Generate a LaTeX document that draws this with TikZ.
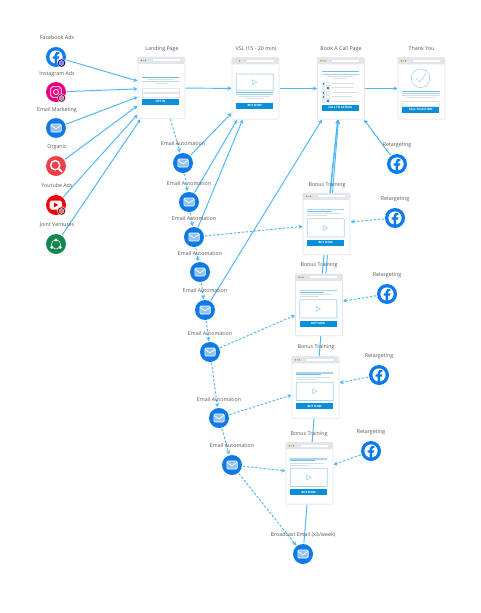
\documentclass[tikz,border=0pt]{standalone}
\usepackage{fontspec}
\setmainfont{Open Sans}
\usetikzlibrary{arrows.meta,calc}
\pgfdeclarelayer{bg}
\pgfsetlayers{bg,main}
\definecolor{link}{HTML}{4DB6FB}
\definecolor{fbblue}{HTML}{0A7BEF}
\definecolor{mailblue}{HTML}{0F7AE5}
\definecolor{btn}{HTML}{0A8FD9}
\definecolor{lineblue}{HTML}{6FBCE8}
\definecolor{paleblue}{HTML}{A6D3EE}
\definecolor{linegray}{HTML}{DADDE1}
\definecolor{chrome}{HTML}{E2E5E9}
\definecolor{txt}{HTML}{555555}
\definecolor{igpink}{HTML}{E6007E}
\definecolor{orgred}{HTML}{F23D4B}
\definecolor{ytred}{HTML}{F40009}
\definecolor{jvgreen}{HTML}{12874F}
\tikzset{
  conn/.style={draw=link,line width=0.95pt,-{Stealth[length=4pt,width=4.2pt]}},
  dconn/.style={conn,dash pattern=on 2.4pt off 1.7pt},
  webpage/.style={rectangle,draw=chrome,fill=white,line width=0.7pt,rounded corners=1pt,minimum width=47pt,minimum height=61.5pt,inner sep=0pt,outer sep=0.5pt},
  icon/.style={circle,minimum size=20pt,inner sep=0pt,outer sep=1pt},
  lab/.style={font=\fontsize{5.3}{6}\selectfont,text=txt,inner sep=0pt},
  btntext/.style={font=\fontsize{2.9}{3}\selectfont\bfseries,text=white,inner sep=0pt},
  ln/.style={line width=0.9pt}
}
% page chrome, local px coordinates from the page's top left corner
\newcommand{\pagebar}[1]{%
  \fill[chrome,rounded corners=0.8pt] (0,0) rectangle (47,7);
  \fill[white] (15,2.6) rectangle (42,4.6);
  \if#1y
  \fill[red!70!white] (4,3.6) circle (0.8);
  \fill[orange!70!yellow] (6,3.6) circle (0.8);
  \fi
  \fill[green!70!black!80] (8,3.6) circle (0.8);
}
\newcommand{\btnbox}[3]{% y1 y2 text
  \fill[btn] (4.5,#1) rectangle (41.8,#2);
  \node[btntext] at (23.1,{(#1+#2)/2}) {#3};
}
\newcommand{\videobox}[2]{% y1 y2
  \draw[paleblue,line width=0.8pt,rounded corners=0.5pt] (4.7,#1) rectangle (41.8,#2);
  \draw[paleblue!70!lineblue,line width=0.5pt,line join=round] (21,{(#1+#2)/2-2.6}) -- (25.4,{(#1+#2)/2}) -- (21,{(#1+#2)/2+2.6}) -- cycle;
}
\newcommand{\bonuspage}[1]{%
  \begin{scope}[shift={(#1.north west)}]
  \pagebar{y}
  \draw[paleblue,line width=1.1pt] (4.5,16.7) -- (41.8,16.7);
  \draw[lineblue,line width=1pt] (4.5,18.7) -- (29,18.7);
  \draw[linegray,ln] (4.5,21) -- (38,21);
  \draw[linegray,ln] (4.5,23) -- (24,23);
  \videobox{26}{44.3}
  \btnbox{47}{53}{BUY NOW}
  \end{scope}
}
\newcommand{\mailicon}[1]{%
  \begin{scope}[shift={(#1.center)}]
  \draw[white,fill=white!55!mailblue,line width=0.6pt,rounded corners=1pt] (-5.2,-4) rectangle (5.2,4);
  \draw[white,line width=0.7pt,line join=round] (-5,-2.6) -- (0,0.9) -- (5,-2.6);
  \end{scope}
}
\newcommand{\fbglyph}[2]{% node, colour of the f
  \begin{scope}[shift={(#1.center)}]
  \fill[white] (0,0) circle (6.6);
  \fill[#2] (1.1,6.8) -- (1.1,1.6) -- (3,1.6) -- (3.3,-0.6) -- (1.1,-0.6) -- (1.1,-2) .. controls (1.1,-2.8) and (1.5,-3.2) .. (2.4,-3.2) -- (3.4,-3.2) -- (3.4,-5) .. controls (1,-5.6) and (-1.3,-5) .. (-1.3,-2.2) -- (-1.3,-0.6) -- (-3.3,-0.6) -- (-3.3,1.6) -- (-1.3,1.6) -- (-1.3,6.8) -- cycle;
  \end{scope}
}
\newcommand{\globebadge}[2]{% node, colour
  \begin{scope}[shift={(#1.center)}]
  \fill[#2,draw=white,line width=0.4pt] (5.5,6) circle (4.2);
  \draw[white,line width=0.35pt] (5.5,6) circle (2.4) (3.1,6) -- (7.9,6) (5.5,3.6) -- (5.5,8.4);
  \draw[white,line width=0.3pt] (5.5,6) ellipse (1.1 and 2.4);
  \end{scope}
}
\begin{document}
\begin{tikzpicture}[x=1pt,y=-1pt]
\useasboundingbox (0,0) rectangle (480,613);
% sources
\node[icon,fill=fbblue] (fb) at (56,57) {};
\node[icon,fill=igpink] (ig) at (56,92) {};
\node[icon,fill=mailblue] (em) at (56,128) {};
\node[icon,fill=orgred] (org) at (56,166) {};
\node[icon,fill=ytred] (yt) at (56,205) {};
\node[icon,fill=jvgreen] (jv) at (56,244) {};
% pages
\node[webpage] (lp) at (161.5,88) {};
\node[webpage] (vsl) at (255.5,88.5) {};
\node[webpage] (book) at (341,88.5) {};
\node[webpage] (ty) at (421.5,88.5) {};
\node[webpage] (b1) at (326.5,224) {};
\node[webpage] (b2) at (319,305) {};
\node[webpage] (b3) at (315.5,387.5) {};
\node[webpage] (b4) at (309.5,473.5) {};
% e-mail automation
\node[icon,fill=mailblue] (e1) at (183,163) {};
\node[icon,fill=mailblue] (e2) at (189,202) {};
\node[icon,fill=mailblue] (e3) at (194,237) {};
\node[icon,fill=mailblue] (e4) at (200,272) {};
\node[icon,fill=mailblue] (e5) at (205,310) {};
\node[icon,fill=mailblue] (e6) at (210,352) {};
\node[icon,fill=mailblue] (e7) at (219,418) {};
\node[icon,fill=mailblue] (e8) at (232,465) {};
\node[icon,fill=mailblue] (bc) at (303,554) {};
% retargeting
\node[icon,fill=fbblue] (r0) at (397,164) {};
\node[icon,fill=fbblue] (r1) at (395,218) {};
\node[icon,fill=fbblue] (r2) at (387,294) {};
\node[icon,fill=fbblue] (r3) at (379,375) {};
\node[icon,fill=fbblue] (r4) at (371,451) {};
% connectors
\begin{pgfonlayer}{bg}
\fill[white] (0,0) rectangle (480,613);
\foreach \s in {fb,ig,em,org,yt,jv} \draw[conn] (\s) -- (lp);
\draw[conn] (lp) -- (vsl);
\draw[conn] (vsl) -- (book);
\draw[conn] (book) -- (ty);
\draw[conn] (r0) -- (book);
\draw[conn] (e1) -- (vsl);
\draw[conn] (e2) -- (vsl);
\draw[conn] (e3) -- (vsl);
\draw[conn] (e5) -- (book);
\draw[conn] (b1) -- (book);
\draw[conn] (b2) -- (book);
\draw[conn] (bc) -- (book);
\draw[dconn] (lp) -- (e1);
\draw[dconn] (e1) -- (e2);
\draw[dconn] (e2) -- (e3);
\draw[dconn] (e3) -- (e4);
\draw[dconn] (e4) -- (e5);
\draw[dconn] (e5) -- (e6);
\draw[dconn] (e6) -- (e7);
\draw[dconn] (e7) -- (e8);
\draw[dconn] (e8) -- (bc);
\draw[dconn] (e3) -- (b1);
\draw[dconn] (e6) -- (b2);
\draw[dconn] (e7) -- (b3);
\draw[dconn] (e8) -- (b4);
\draw[dconn] (r1) -- (b1);
\draw[dconn] (r2) -- (b2);
\draw[dconn] (r3) -- (b3);
\draw[dconn] (r4) -- (b4);
\end{pgfonlayer}
% page contents
\begin{scope}[shift={(lp.north west)}]
  \pagebar{y}
  \draw[lineblue,line width=1pt] (4.5,21) -- (41.8,21);
  \draw[linegray,ln] (10,23) -- (36,23);
  \draw[paleblue!60!linegray,ln] (4.5,25) -- (41.8,25);
  \draw[linegray,ln] (18,27) -- (29,27);
  \draw[chrome,fill=white,line width=0.4pt] (4.5,31) rectangle (41.8,35.5);
  \draw[chrome,fill=white,line width=0.4pt] (4.5,36) rectangle (41.8,40.7);
  \btnbox{41.8}{48}{OPT IN}
\end{scope}
\begin{scope}[shift={(vsl.north west)}]
  \pagebar{n}
  \videobox{16.7}{33}
  \draw[lineblue,line width=1pt] (4.5,35.5) -- (41.8,35.5);
  \draw[paleblue,ln] (4.5,37.5) -- (41.8,37.5);
  \draw[linegray,ln] (7,39.5) -- (38,39.5);
  \draw[linegray,ln] (13,41.5) -- (32,41.5);
  \btnbox{45.5}{51.5}{BUY NOW}
\end{scope}
\begin{scope}[shift={(book.north west)}]
  \pagebar{y}
  \draw[lineblue,line width=1pt] (4.5,14.7) -- (41.8,14.7);
  \draw[paleblue,ln] (4.5,16.7) -- (41.8,16.7);
  \draw[linegray,ln] (10,18.7) -- (36,18.7);
  \draw[linegray,ln] (17,20.7) -- (29,20.7);
  \foreach \y/\a/\b/\e in {26.3/btn/white/37,30.6/white/btn/36,35/btn/white/41,39/btn/white/35,43.7/white/btn/41}{
    \draw[chrome,fill=\a,line width=0.3pt] (4.7,\y-1.4) rectangle +(2.8,2.8);
    \draw[chrome,fill=\b,line width=0.3pt] (9.3,\y-1.4) rectangle +(2.8,2.8);
    \draw[linegray,ln] (14.5,\y) -- (\e,\y);
  }
  \btnbox{47.7}{53.3}{CALL TO ACTION}
\end{scope}
\begin{scope}[shift={(ty.north west)}]
  \pagebar{y}
  \draw[paleblue,line width=0.6pt] (23,21) circle (9.3);
  \draw[paleblue,line width=0.6pt,line join=round] (18.5,21) -- (22,25) -- (28.5,16.5);
  \draw[lineblue,line width=0.9pt] (4.5,34) -- (42,34);
  \draw[paleblue,ln] (4.5,36) -- (42,36);
  \draw[linegray,ln] (4.5,38) -- (42,38);
  \draw[linegray,ln] (9,40.5) -- (37,40.5);
  \draw[chrome,fill=white,line width=0.4pt] (4.2,43.7) rectangle (42,48.7);
  \btnbox{49.3}{55.3}{CALL TO ACTION}
\end{scope}
\bonuspage{b1}
\bonuspage{b2}
\bonuspage{b3}
\bonuspage{b4}
% icon glyphs
\fbglyph{fb}{fbblue}
\globebadge{fb}{blue!60!black}
\fbglyph{r0}{fbblue}
\fbglyph{r1}{fbblue}
\fbglyph{r2}{fbblue}
\fbglyph{r3}{fbblue}
\fbglyph{r4}{fbblue}
\foreach \m in {em,e1,e2,e3,e4,e5,e6,e7,e8,bc} {\mailicon{\m}}
\begin{scope}[shift={(ig.center)}]
  \draw[white,line width=0.8pt,rounded corners=1.8pt] (-5.2,-5.2) rectangle (5.2,5.2);
  \draw[white,line width=0.8pt] (0,0) circle (2.5);
  \fill[white] (3,-3) circle (0.6);
\end{scope}
\globebadge{ig}{igpink!60!black}
\begin{scope}[shift={(org.center)}]
  \draw[white,line width=1.4pt] (-0.8,-0.8) circle (4.6);
  \draw[white,line width=1.6pt,line cap=round] (2.8,2.8) -- (5.8,5.8);
\end{scope}
\begin{scope}[shift={(yt.center)}]
  \fill[white,rounded corners=1.8pt] (-6.5,-4.5) rectangle (6,4.5);
  \fill[ytred] (-2.2,-2.4) -- (2.4,0) -- (-2.2,2.4) -- cycle;
\end{scope}
\globebadge{yt}{ytred!60!black}
\begin{scope}[shift={(jv.center)}]
  \draw[white,line width=0.5pt] (0,0.5) circle (4.6);
  \fill[white] (0,-4) circle (1.7);
  \fill[white] (-4.2,3.3) circle (1.7);
  \fill[white] (4.2,3.3) circle (1.7);
\end{scope}
% labels
\node[lab] (t1) at (57,38) {Facebook Ads};
\node[lab] (t2) at (57,74) {Instagram Ads};
\node[lab] (t3) at (57,110) {Email Marketing};
\node[lab] (t4) at (57,147) {Organic};
\node[lab] (t5) at (57,186) {Youtube Ads};
\node[lab] (t6) at (57,225) {Joint Ventures};
\node[lab] (t7) at (162,49) {Landing Page};
\node[lab] (t8) at (256,49) {VSL (15 - 20 min)};
\node[lab] (t9) at (341,49) {Book A Call Page};
\node[lab] (t10) at (421.5,49) {Thank You};
\node[lab] (t11) at (397,145.5) {Retargeting};
\node[lab] (t12) at (395,199) {Retargeting};
\node[lab] (t13) at (387,275.5) {Retargeting};
\node[lab] (t14) at (379,356.5) {Retargeting};
\node[lab] (t15) at (371,432.5) {Retargeting};
\node[lab] (t16) at (327,185) {Bonus Training};
\node[lab] (t17) at (319,265.5) {Bonus Training};
\node[lab] (t18) at (316,347.5) {Bonus Training};
\node[lab] (t19) at (309,434) {Bonus Training};
\node[lab] (t20) at (303,535) {Broadcast Email (x3/week)};
\node[lab] (t21) at (183,144) {Email Automation};
\node[lab] (t22) at (189,183.5) {Email Automation};
\node[lab] (t23) at (194,218.5) {Email Automation};
\node[lab] (t24) at (200,254) {Email Automation};
\node[lab] (t25) at (205,291) {Email Automation};
\node[lab] (t26) at (210,333.5) {Email Automation};
\node[lab] (t27) at (219,400) {Email Automation};
\node[lab] (t28) at (232,446) {Email Automation};
\end{tikzpicture}
\end{document}
